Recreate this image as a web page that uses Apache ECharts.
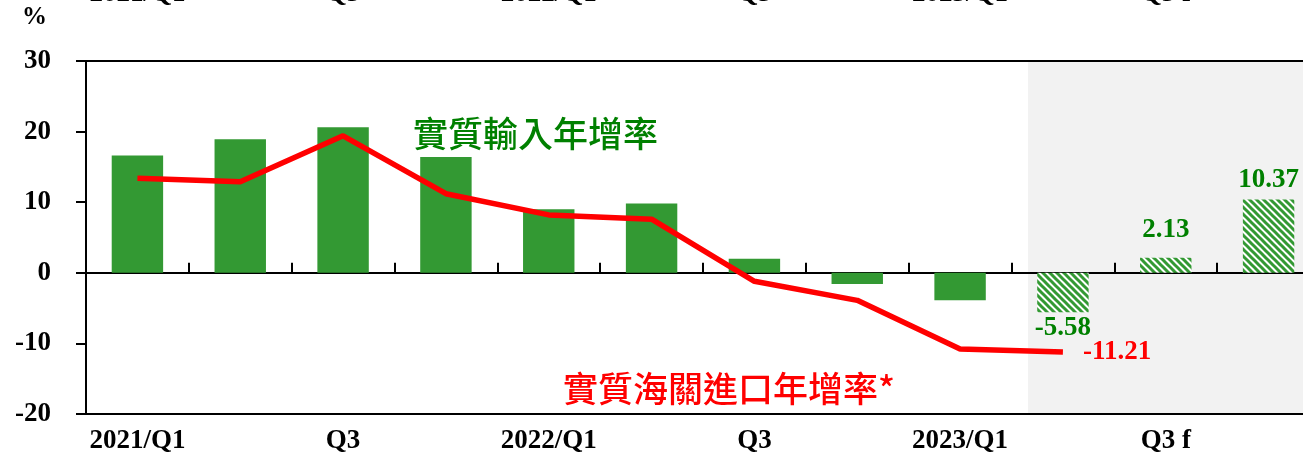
<!DOCTYPE html>
<html lang="zh-Hant">
  <head>
    <meta charset="utf-8" />
    <title>實質輸入年增率</title>
    <script src="https://cdn.jsdelivr.net/npm/echarts@6.0.0/dist/echarts.min.js"></script>
    <style>
      html, body { margin: 0; padding: 0; background: #fff; }
      #main { width: 1303px; height: 461px; }
    </style>
  </head>
  <body>
    <div id="main"></div>
    <script>
      // quarters, last two are forecasts
      var quarters = ["2021/Q1", "Q2", "Q3", "Q4", "2022/Q1", "Q2", "Q3", "Q4", "2023/Q1", "Q2", "Q3 f", "Q4 f"];
      // 實質輸入年增率 (bars)
      var realImports = [16.6, 18.9, 20.6, 16.4, 9.0, 9.8, 2.0, -1.6, -3.9, -5.58, 2.13, 10.37];
      // 實質海關進口年增率 (line), ends at 2023/Q2
      var customsImports = [13.4, 12.9, 19.4, 11.2, 8.2, 7.6, -1.2, -3.9, -10.8, -11.21];
      var firstForecast = 9;
      var yTicks = { min: -20, max: 30, step: 10 };

      var green = "#339933";
      var labelFont = "Liberation Serif";

      // diagonal hatch for forecast bars
      function hatch() {
        var c = document.createElement("canvas");
        c.width = 7;
        c.height = 7;
        var g = c.getContext("2d");
        g.fillStyle = "#ffffff";
        g.fillRect(0, 0, 7, 7);
        g.strokeStyle = green;
        g.lineWidth = 3;
        g.beginPath();
        g.moveTo(-2, -2); g.lineTo(9, 9);
        g.moveTo(-9, -2); g.lineTo(2, 9);
        g.moveTo(5, -2); g.lineTo(16, 9);
        g.stroke();
        return c;
      }
      var hatchPattern = { image: hatch(), repeat: "repeat" };

      var barData = realImports.map(function (v, i) {
        if (i < firstForecast) return v;
        return {
          value: v,
          itemStyle: { color: hatchPattern },
          label: {
            show: true,
            position: v < 0 ? "bottom" : "top",
            distance: v < 0 ? 2 : (v > 5 ? 6 : 14)
          }
        };
      });

      var boldText = { fontFamily: labelFont, fontWeight: "bold", fontSize: 27, color: "#000" };

      var chart = echarts.init(document.getElementById("main"));
      chart.setOption({
        animation: false,
        grid: { left: 86, right: -17, top: 61, bottom: 47, containLabel: false, outerBoundsMode: "none" },
        xAxis: [
          {
            type: "category",
            data: quarters,
            position: "bottom",
            axisLine: { onZero: false, lineStyle: { color: "#000", width: 2 } },
            axisTick: { show: false },
            axisLabel: Object.assign({ interval: 1, margin: 14 }, boldText),
            splitLine: { show: false }
          },
          {
            type: "category",
            data: quarters,
            position: "top",
            axisLine: { onZero: false, lineStyle: { color: "#000", width: 2 } },
            axisTick: { show: false },
            axisLabel: Object.assign({ interval: 1, margin: 53 }, boldText),
            splitLine: { show: false }
          },
          {
            type: "category",
            data: quarters,
            position: "bottom",
            axisLine: { onZero: true, lineStyle: { color: "#000", width: 2 } },
            axisTick: { show: true, inside: true, length: 10, interval: 0, lineStyle: { color: "#000", width: 2 } },
            axisLabel: { show: false },
            splitLine: { show: false }
          }
        ],
        yAxis: {
          type: "value",
          min: yTicks.min,
          max: yTicks.max,
          interval: yTicks.step,
          axisLine: { show: true, lineStyle: { color: "#000", width: 2 } },
          axisTick: { show: true, length: 10, lineStyle: { color: "#000", width: 2 } },
          axisLabel: Object.assign({ margin: 35 }, boldText),
          splitLine: { show: false }
        },
        series: [
          {
            name: "實質輸入年增率",
            type: "bar",
            xAxisIndex: 0,
            barWidth: "50%",
            itemStyle: { color: green },
            label: {
              show: false,
              color: "#008000",
              fontFamily: labelFont,
              fontWeight: "bold",
              fontSize: 27,
              formatter: function (p) { return p.value.toFixed(2); }
            },
            data: barData,
            z: 2
          },
          {
            name: "實質海關進口年增率*",
            type: "line",
            xAxisIndex: 0,
            showSymbol: false,
            lineStyle: { color: "#ff0000", width: 5.5 },
            itemStyle: { color: "#ff0000" },
            endLabel: {
              show: true,
              distance: 20,
              color: "#ff0000",
              fontFamily: labelFont,
              fontWeight: "bold",
              fontSize: 27,
              formatter: function (p) { return p.value.toFixed(2); }
            },
            data: customsImports,
            z: 3
          }
        ]
      });

      // shaded forecast region, unit mark and series annotations
      var c0 = chart.convertToPixel({ xAxisIndex: 0 }, 0);
      var c1 = chart.convertToPixel({ xAxisIndex: 0 }, 1);
      var band = c1 - c0;
      var shadeX = chart.convertToPixel({ xAxisIndex: 0 }, firstForecast) - 0.34 * band;
      var yTop = chart.convertToPixel({ yAxisIndex: 0 }, yTicks.max);
      var yBottom = chart.convertToPixel({ yAxisIndex: 0 }, yTicks.min);

      chart.setOption({
        graphic: [
          {
            type: "rect",
            z: -10,
            silent: true,
            shape: { x: shadeX, y: yTop + 1, width: 1303 - shadeX, height: yBottom - yTop - 2 },
            style: { fill: "#f2f2f2" }
          },
          {
            type: "text",
            left: 22,
            top: 5,
            style: {
              text: "%",
              fill: "#000",
              font: "bold 25px 'Liberation Serif'"
            }
          },
          {
            type: "text",
            left: 413,
            top: 116,
            style: {
              text: "實質輸入年增率",
              fill: "#008000",
              font: "500 35px 'Noto Sans CJK TC'"
            }
          },
          {
            type: "text",
            left: 563,
            top: 371,
            style: {
              text: "實質海關進口年增率*",
              fill: "#ff0000",
              font: "500 35px 'Noto Sans CJK TC'"
            }
          }
        ]
      });
    </script>
  </body>
</html>
